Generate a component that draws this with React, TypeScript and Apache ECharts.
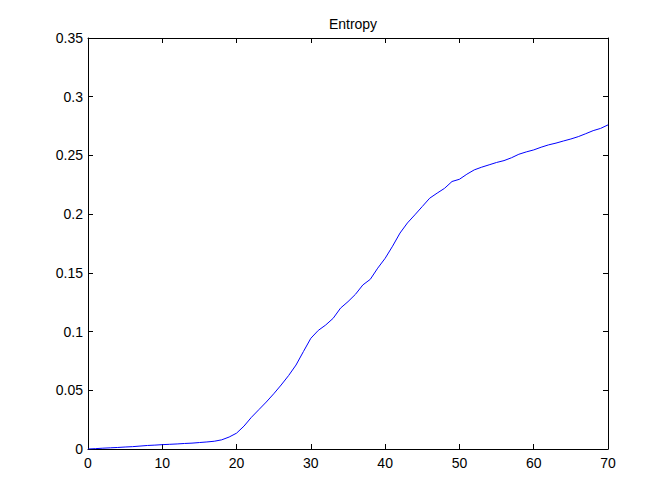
import React, { useEffect, useRef } from "react";
import * as echarts from "echarts";

const xValues: number[] = [
  0, 1, 2, 3, 4, 5, 6, 7, 8, 9, 10, 11, 12, 13, 14, 15, 16, 17, 18, 19, 20,
  21, 22, 23, 24, 25, 26, 27, 28, 29, 30, 31, 32, 33, 34, 35, 36, 37, 38, 39, 40,
  41, 42, 43, 44, 45, 46, 47, 48, 49, 50, 51, 52, 53, 54, 55, 56, 57, 58, 59, 60,
  61, 62, 63, 64, 65, 66, 67, 68, 69, 70,
];

const entropy: number[] = [
  0, 0.0003, 0.0007, 0.001, 0.0013, 0.0017, 0.002, 0.0025, 0.003, 0.0033, 0.0037,
  0.004, 0.0043, 0.0047, 0.005, 0.0055, 0.006, 0.0066, 0.0078, 0.0102, 0.0135,
  0.0195, 0.027, 0.0335, 0.04, 0.047, 0.0545, 0.0625, 0.0715, 0.083, 0.0943,
  0.101, 0.1056, 0.1113, 0.12, 0.1255, 0.1317, 0.1397, 0.1445, 0.154, 0.1624,
  0.1727, 0.1839, 0.1925, 0.1994, 0.2065, 0.2136, 0.2179, 0.222, 0.2278, 0.2297,
  0.234, 0.2377, 0.24, 0.242, 0.244, 0.2456, 0.248, 0.251, 0.253, 0.2547,
  0.257, 0.259, 0.2605, 0.2623, 0.264, 0.266, 0.2685, 0.2711, 0.273, 0.276,
];

const titleText = "Entropy";
const xMin = 0;
const xMax = 70;
const xStep = 10;
const yMin = 0;
const yMax = 0.35;
const yStep = 0.05;

const FONT = "'Liberation Sans', Arial, Helvetica, sans-serif";

export default function App() {
  const ref = useRef<HTMLDivElement>(null);

  useEffect(() => {
    if (!ref.current) return;
    const chart = echarts.init(ref.current, undefined, { renderer: "svg" });
    const axisLine = { show: true, onZero: false, lineStyle: { color: "#000", width: 1 } };
    const tick = { show: true, inside: true, length: 5, lineStyle: { color: "#000", width: 1 } };
    const label = { color: "#000", fontSize: 14, fontFamily: FONT };
    chart.setOption({
      animation: false,
      backgroundColor: "#ffffff",
      title: {
        text: titleText,
        left: 348,
        textAlign: "center",
        top: 12,
        textStyle: { color: "#000", fontSize: 14, fontWeight: "normal", fontFamily: FONT },
      },
      grid: { left: 88, right: 64, top: 38, bottom: 55, containLabel: false },
      xAxis: [
        {
          type: "value",
          min: xMin,
          max: xMax,
          interval: xStep,
          position: "bottom",
          axisLine,
          axisTick: tick,
          axisLabel: { ...label, margin: 7 },
          splitLine: { show: false },
        },
        {
          type: "value",
          min: xMin,
          max: xMax,
          interval: xStep,
          position: "top",
          axisLine,
          axisTick: tick,
          axisLabel: { show: false },
          splitLine: { show: false },
        },
      ],
      yAxis: [
        {
          type: "value",
          min: yMin,
          max: yMax,
          interval: yStep,
          position: "left",
          axisLine,
          axisTick: tick,
          axisLabel: {
            ...label,
            margin: 5,
            formatter: (v: number) => Number(v.toFixed(2)).toString(),
          },
          splitLine: { show: false },
        },
        {
          type: "value",
          min: yMin,
          max: yMax,
          interval: yStep,
          position: "right",
          axisLine,
          axisTick: tick,
          axisLabel: { show: false },
          splitLine: { show: false },
        },
      ],
      series: [
        {
          type: "line",
          data: xValues.map((x, i) => [x, entropy[i]]),
          showSymbol: false,
          symbol: "none",
          lineStyle: { color: "#0000ff", width: 1 },
          itemStyle: { color: "#0000ff" },
          xAxisIndex: 0,
          yAxisIndex: 0,
        },
      ],
    });
    return () => chart.dispose();
  }, []);

  return (
    <div
      ref={ref}
      style={{ position: "fixed", left: 0, top: 0, width: 672, height: 504, background: "#fff" }}
    />
  );
}
